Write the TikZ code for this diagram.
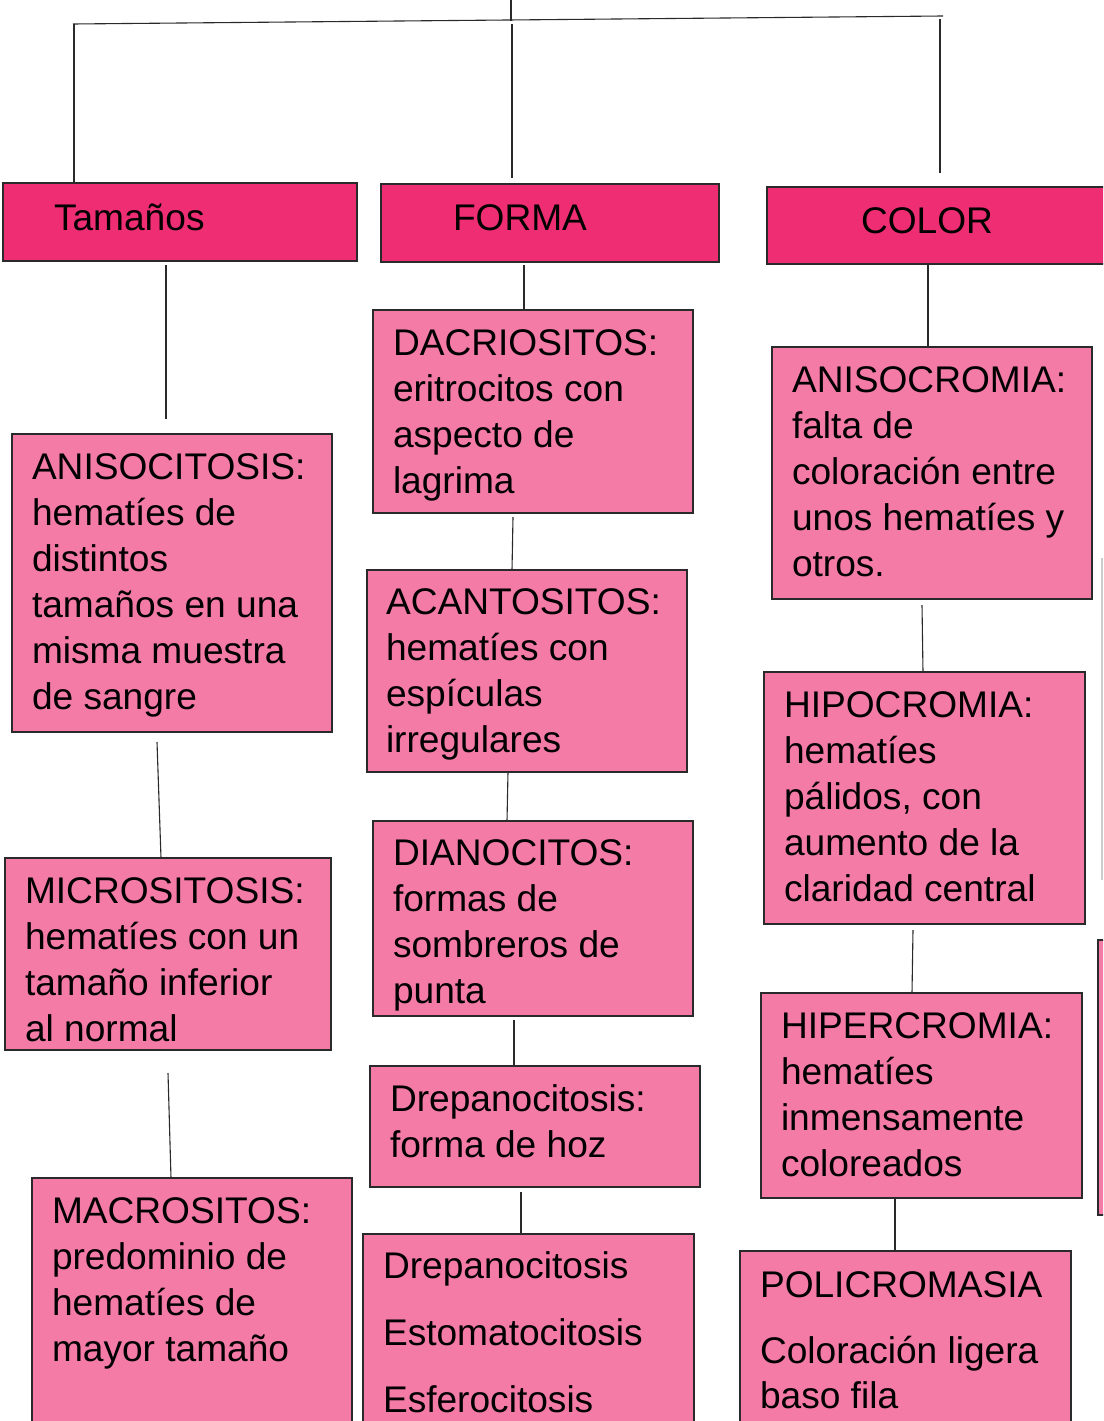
\documentclass[tikz,border=0pt]{standalone}
\usepackage{fontspec}
\setmainfont{Liberation Sans}
\definecolor{hdr}{HTML}{EE2D72}
\definecolor{bx}{HTML}{F37BA6}
\definecolor{ln}{HTML}{2A2A2A}
\tikzset{
  box/.style={draw=ln, line width=1.3pt, fill=bx, inner sep=0pt, outer sep=0pt, rectangle},
  hbox/.style={box, fill=hdr},
  txt/.style={anchor=base west, inner sep=0pt, outer sep=0pt, font=\fontsize{37.1}{46}\selectfont},
  conn/.style={draw=ln, line width=1.1pt},
  faint/.style={draw=black!20, line width=1.2pt}
}
% \bx{name}{style}{x1}{y1}{x2}{y2}
\newcommand{\bx}[6]{%
  \node[#2, minimum width={(#5-#3)*1pt}, minimum height={(#6-#4)*1pt}] (#1) at ({(#3+#5)/2},{(#4+#6)/2}) {};}
% \tl{name}{x}{baseline}{lines}
\newcommand{\tl}[4]{%
  \foreach \t [count=\i from 0] in {#4} {\node[txt] (#1-\i) at (#2,{#3+46*\i}) {\t};}}
\begin{document}
\begin{tikzpicture}[x=1pt,y=-1pt]
\useasboundingbox (0,0) rectangle (1103,1421);
\clip (0,0) rectangle (1103,1421);

% header boxes
\bx{tam}{hbox}{3}{183}{357}{261}
\bx{for}{hbox}{381}{184}{719}{262}
\bx{col}{hbox}{767}{187}{1115}{264}
\node[txt] (tamt) at (54,230) {Tamaños};
\node[txt] (fort) at (453,230) {FORMA};
\node[txt] (colt) at (861,233) {COLOR};

% left column
\bx{aniso}{box}{12}{434}{332}{732}
\tl{anisot}{32}{479}{ANISOCITOSIS:,hematíes de,distintos,tamaños en una,misma muestra,de sangre}
\bx{micro}{box}{5}{858}{331}{1050}
\tl{microt}{25}{903}{MICROSITOSIS:,hematíes con un,tamaño inferior,al normal}
\bx{macro}{box}{32}{1178}{352}{1440}
\tl{macrot}{52}{1223}{MACROSITOS:,predominio de,hematíes de,mayor tamaño}

% middle column
\bx{dacr}{box}{373}{310}{693}{513}
\tl{dacrt}{393}{355}{DACRIOSITOS:,eritrocitos con,aspecto de,lagrima}
\bx{acan}{box}{367}{570}{687}{772}
\tl{acant}{386}{614}{ACANTOSITOS:,hematíes con,espículas,irregulares}
\bx{dian}{box}{373}{821}{693}{1016}
\tl{diant}{393}{865}{DIANOCITOS:,formas de,sombreros de,punta}
\bx{drep}{box}{370}{1066}{700}{1187}
\tl{drept}{390}{1111}{Drepanocitosis:,forma de hoz}
\bx{list}{box}{363}{1234}{694}{1440}
\node[txt] (list-0) at (383,1278) {Drepanocitosis};
\node[txt] (list-1) at (383,1345) {Estomatocitosis};
\node[txt] (list-2) at (383,1412) {Esferocitosis};

% right column
\bx{acrom}{box}{772}{347}{1092}{599}
\tl{acromt}{792}{392}{ANISOCROMIA:,falta de,coloración entre,unos hematíes y,otros.}
\bx{hipo}{box}{764}{672}{1085}{924}
\tl{hipot}{784}{717}{HIPOCROMIA:,hematíes,{pálidos, con},aumento de la,claridad central}
\bx{hiper}{box}{761}{993}{1082}{1198}
\tl{hipert}{781}{1038}{HIPERCROMIA:,hematíes,inmensamente,coloreados}
\bx{poli}{box}{740}{1251}{1071}{1440}
\node[txt] (poli-0) at (760,1297) {POLICROMASIA};
\node[txt] (poli-1) at (760,1363) {Coloración ligera};
\node[txt] (poli-2) at (760,1408) {baso fila};

% partial shapes at the right edge
\bx{edge}{box}{1098}{940}{1130}{1215}
\coordinate (g1) at (1102,558);
\coordinate (g2) at (1102,880);
\draw[faint] (g1) -- (g2);

% top connectors
\coordinate (r0) at (511,0);
\coordinate (r1) at (511,21);
\coordinate (hl) at (73,24);
\coordinate (hr) at (943,16);
\coordinate (c1a) at (74,24);
\coordinate (c1b) at (74,182);
\coordinate (c2a) at (512,24);
\coordinate (c2b) at (512,178);
\coordinate (c3a) at (940,19);
\coordinate (c3b) at (940,173);
\draw[conn] (r0) -- (r1);
\draw[conn] (hl) -- (hr);
\draw[conn] (c1a) -- (c1b);
\draw[conn] (c2a) -- (c2b);
\draw[conn] (c3a) -- (c3b);

% column connectors
\coordinate (l1a) at (166,265); \coordinate (l1b) at (166,419);
\coordinate (l2a) at (157,742); \coordinate (l2b) at (161,858);
\coordinate (l3a) at (168,1073); \coordinate (l3b) at (171,1178);
\draw[conn] (l1a) -- (l1b);
\draw[conn] (l2a) -- (l2b);
\draw[conn] (l3a) -- (l3b);

\coordinate (m1a) at (524,265); \coordinate (m1b) at (524,310);
\coordinate (m2a) at (513,517); \coordinate (m2b) at (512,570);
\coordinate (m3a) at (508,772); \coordinate (m3b) at (507,821);
\coordinate (m4a) at (514,1020); \coordinate (m4b) at (514,1066);
\coordinate (m5a) at (521,1192); \coordinate (m5b) at (521,1234);
\draw[conn] (m1a) -- (m1b);
\draw[conn] (m2a) -- (m2b);
\draw[conn] (m3a) -- (m3b);
\draw[conn] (m4a) -- (m4b);
\draw[conn] (m5a) -- (m5b);

\coordinate (k1a) at (928,264); \coordinate (k1b) at (928,347);
\coordinate (k2a) at (922,605); \coordinate (k2b) at (923,672);
\coordinate (k3a) at (913,930); \coordinate (k3b) at (912,993);
\coordinate (k4a) at (895,1198); \coordinate (k4b) at (895,1251);
\draw[conn] (k1a) -- (k1b);
\draw[conn] (k2a) -- (k2b);
\draw[conn] (k3a) -- (k3b);
\draw[conn] (k4a) -- (k4b);
\end{tikzpicture}
\end{document}
